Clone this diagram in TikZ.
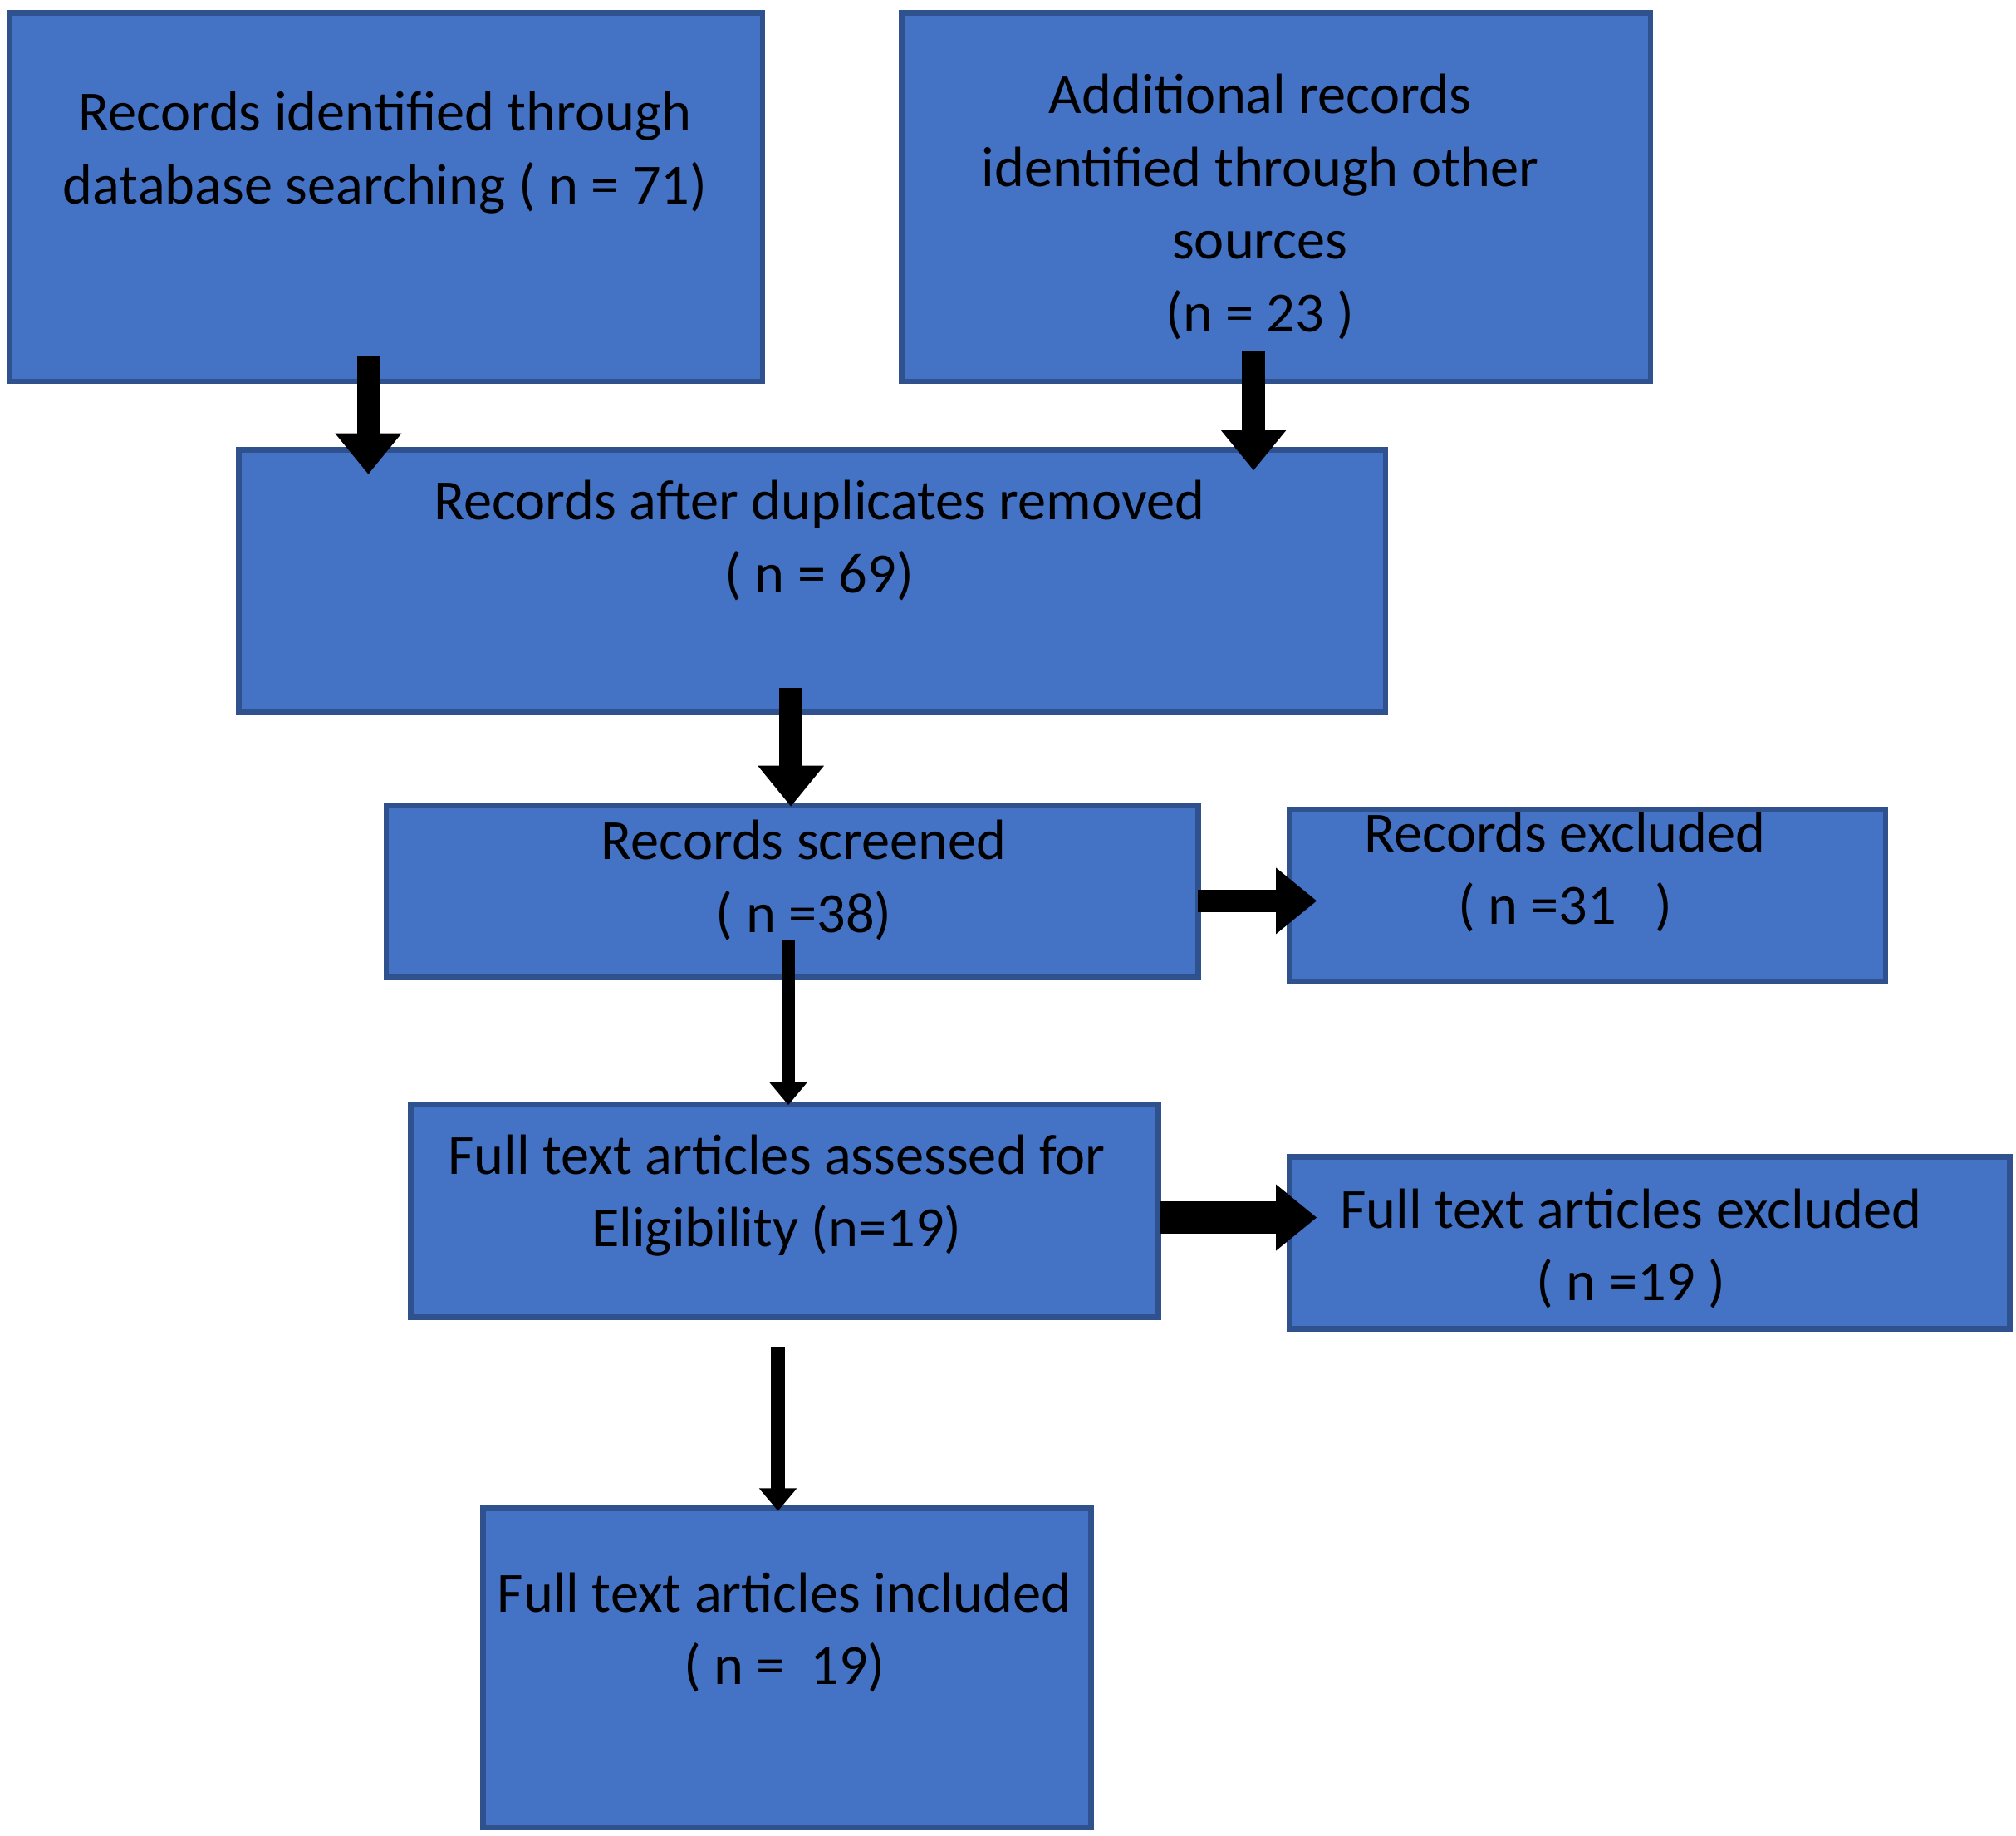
\documentclass[tikz,border=0pt]{standalone}
\usepackage{fontspec}
\setmainfont{Carlito}
\usetikzlibrary{arrows.meta}
\definecolor{boxblue}{HTML}{4472C4}
\definecolor{boxedge}{HTML}{2F528F}
\begin{document}
\begin{tikzpicture}[x=0.01cm,y=-0.01cm,
  box/.style={draw=boxedge,fill=boxblue,line width=1.2pt,inner sep=0pt},
  txt/.style={align=center,font=\fontsize{12.5}{16}\selectfont},
  fat/.style={line width=5pt,-{Triangle[length=9pt,width=14pt]}},
  thin/.style={line width=3pt,-{Triangle[length=5pt,width=8pt]}}]
\useasboundingbox (0,0) rectangle (1560,1420);

\node[box,minimum width=5.82cm,minimum height=2.85cm] (db) at (299,152.5) {};
\node[box,minimum width=5.79cm,minimum height=2.85cm] (other) at (987.5,152.5) {};
\node[box,minimum width=8.87cm,minimum height=2.03cm] (dup) at (628.5,449.5) {};
\node[box,minimum width=6.28cm,minimum height=1.33cm] (screen) at (613,689.5) {};
\node[box,minimum width=4.61cm,minimum height=1.33cm] (excl) at (1228.5,692.5) {};
\node[box,minimum width=5.78cm,minimum height=1.64cm] (full) at (607,937) {};
\node[box,minimum width=5.57cm,minimum height=1.33cm] (fullexcl) at (1276.5,961.5) {};
\node[box,minimum width=4.70cm,minimum height=2.47cm] (incl) at (609,1290.5) {};

\node[txt] (dbtext) at (298,118) {Records identified through\\database searching ( n = 71)};
\node[txt] (othertext) at (975,160) {Additional records\\identified through other\\sources\\(n = 23 )};
\node[txt] (duptext) at (634,418) {Records after duplicates removed\\( n = 69)};
\node[txt] (screentext) at (622,681) {Records screened\\( n =38)};
\node[txt] (excltext) at (1211,675) {Records excluded\\( n =31 \ \ )};
\node[txt] (fulltext) at (601,925) {Full text articles assessed for\\Eligibility (n=19)};
\node[txt] (fullexcltext) at (1262,966) {Full text articles excluded\\( n =19 )};
\node[txt] (incltext) at (607,1263) {Full text articles included\\( n = \ 19)};

\coordinate (a1) at (285,275);  \coordinate (a2) at (285,367);
\coordinate (b1) at (970,272);  \coordinate (b2) at (970,364);
\coordinate (c1) at (612,532);  \coordinate (c2) at (612,624);
\coordinate (d1) at (610,727);  \coordinate (d2) at (610,855);
\coordinate (e1) at (927,697);  \coordinate (e2) at (1019,697);
\coordinate (f1) at (898,942);  \coordinate (f2) at (1019,942);
\coordinate (g1) at (602,1042); \coordinate (g2) at (602,1169);

\foreach \from/\to in {a1/a2, b1/b2, c1/c2, e1/e2}
	\draw[fat] (\from) -- (\to);
\draw[fat,line width=7pt] (f1) -- (f2);
\foreach \from/\to in {d1/d2, g1/g2}
	\draw[thin] (\from) -- (\to);
\end{tikzpicture}
\end{document}
